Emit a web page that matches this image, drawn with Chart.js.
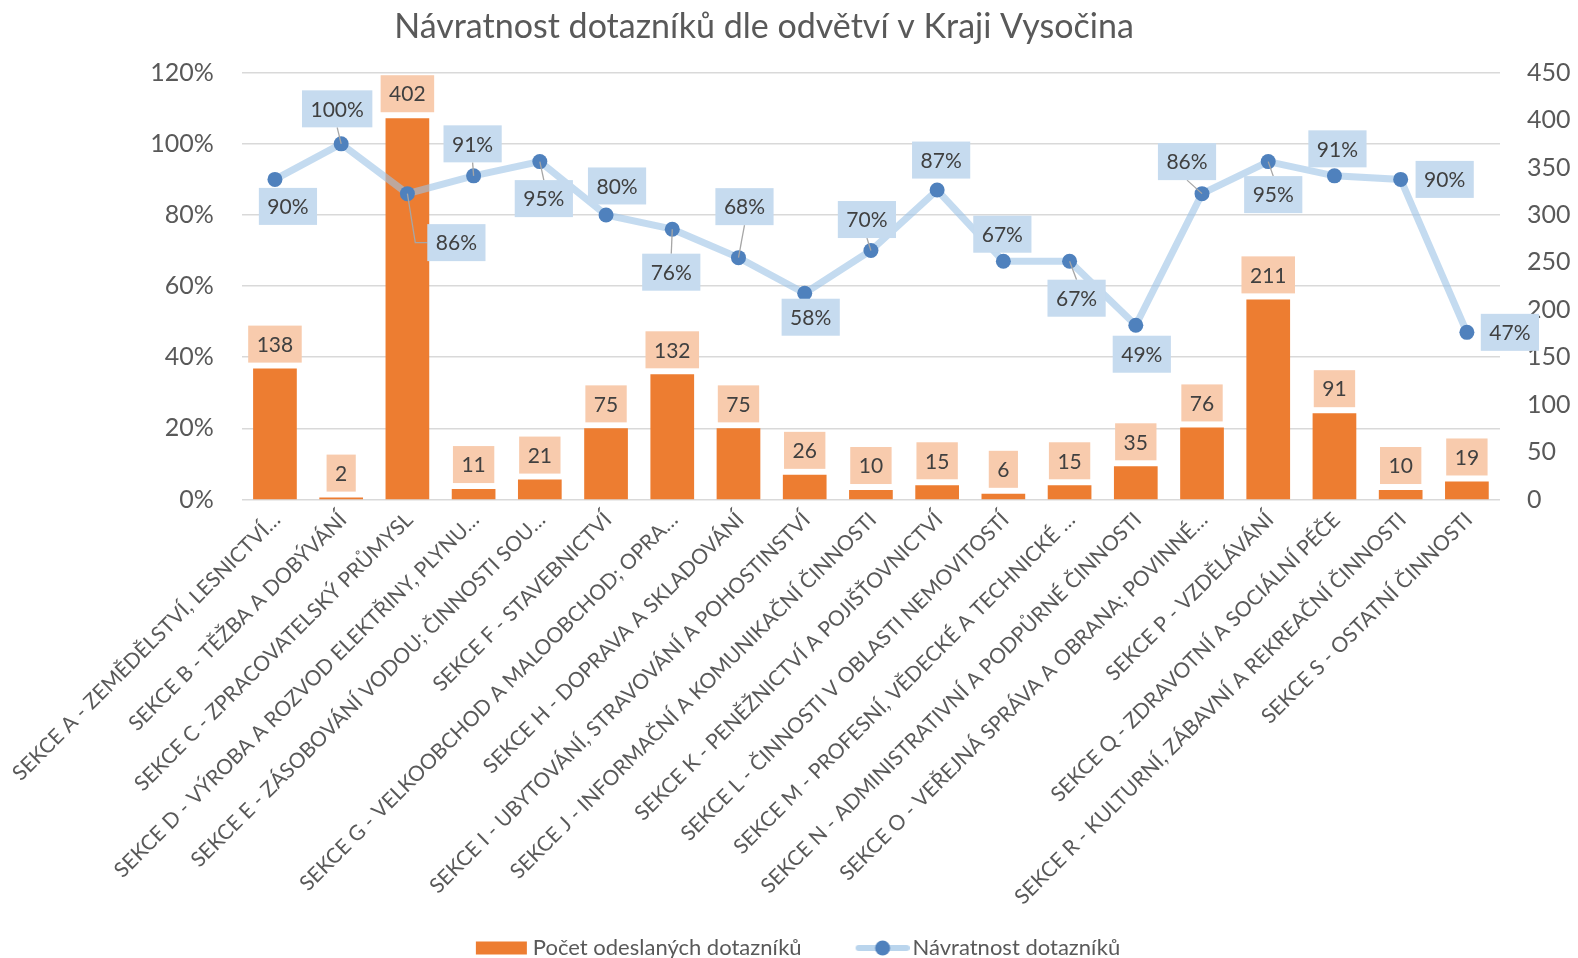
<!DOCTYPE html>
<html><head><meta charset="utf-8">
<script src="https://cdn.jsdelivr.net/npm/chart.js@4.4.1/dist/chart.umd.min.js"></script>
<style>html,body{margin:0;padding:0;background:#fff}canvas{display:block}</style>
</head><body>
<canvas id="c" width="1578" height="958"></canvas>
<script>
const categories = [
  "SEKCE A - ZEMĚDĚLSTVÍ, LESNICTVÍ…",
  "SEKCE B - TĚŽBA A DOBÝVÁNÍ",
  "SEKCE C - ZPRACOVATELSKÝ PRŮMYSL",
  "SEKCE D - VÝROBA A ROZVOD ELEKTŘINY, PLYNU…",
  "SEKCE E - ZÁSOBOVÁNÍ VODOU; ČINNOSTI SOU…",
  "SEKCE F - STAVEBNICTVÍ",
  "SEKCE G - VELKOOBCHOD A MALOOBCHOD; OPRA…",
  "SEKCE H - DOPRAVA A SKLADOVÁNÍ",
  "SEKCE I - UBYTOVÁNÍ, STRAVOVÁNÍ A POHOSTINSTVÍ",
  "SEKCE J - INFORMAČNÍ A KOMUNIKAČNÍ ČINNOSTI",
  "SEKCE K - PENĚŽNICTVÍ A POJIŠŤOVNICTVÍ",
  "SEKCE L - ČINNOSTI V OBLASTI NEMOVITOSTÍ",
  "SEKCE M - PROFESNÍ, VĚDECKÉ A TECHNICKÉ …",
  "SEKCE N - ADMINISTRATIVNÍ A PODPŮRNÉ ČINNOSTI",
  "SEKCE O - VEŘEJNÁ SPRÁVA A OBRANA; POVINNÉ…",
  "SEKCE P - VZDĚLÁVÁNÍ",
  "SEKCE Q - ZDRAVOTNÍ A SOCIÁLNÍ PÉČE",
  "SEKCE R - KULTURNÍ, ZÁBAVNÍ A REKREAČNÍ ČINNOSTI",
  "SEKCE S - OSTATNÍ ČINNOSTI"
];
const sentCounts = [138, 2, 402, 11, 21, 75, 132, 75, 26, 10, 15, 6, 15, 35, 76, 211, 91, 10, 19];
const returnRates = [90, 100, 86, 91, 95, 80, 76, 68, 58, 70, 87, 67, 67, 49, 86, 95, 91, 90, 47];
const leftTicks = [0, 20, 40, 60, 80, 100, 120];
const rightTicks = [0, 50, 100, 150, 200, 250, 300, 350, 400, 450];
const titleText = "Návratnost dotazníků dle odvětví v Kraji Vysočina";
const barLabel = "Počet odeslaných dotazníků";
const lineLabel = "Návratnost dotazníků";

const FONT = "Lato";
const TEXT = "#595959";

// label placement (pixel offsets of label centre from the point) - styling only
const lineLabelOffsets = [[13,27],[-4,-35],[49,49],[-1,-32],[4,37],[11,-29],[-1,43],[6,-51],[6,24],[-4,-31],[4,-30],[-1,-27],[7,37],[6,29],[-15,-32],[5,33],[3,-27],[44,0],[43,0]];
const lineLeaders = {1:'b',2:'l',3:'b',4:'t',6:'t',7:'b',9:'b',12:'t',14:'b',15:'t'};

function makeBarIcon(){
  const c = document.createElement('canvas'); c.width = 106; c.height = 16;
  const x = c.getContext('2d'); x.fillStyle = '#ed7d31'; x.fillRect(52, 1.5, 51, 13);
  return c;
}
function makeLineIcon(){
  const c = document.createElement('canvas'); c.width = 106; c.height = 18;
  const x = c.getContext('2d');
  x.strokeStyle = 'rgba(157,195,230,0.7)'; x.lineWidth = 6; x.lineCap = 'round';
  x.beginPath(); x.moveTo(55, 9); x.lineTo(103, 9); x.stroke();
  x.fillStyle = '#4f81bd'; x.beginPath(); x.arc(79, 9, 7.5, 0, Math.PI * 2); x.fill();
  return c;
}

const blockShift = {
  id: 'blockShift',
  afterLayout(chart) {
    const t = chart.titleBlock; if (t) { t.left = -50; }
    const l = chart.legend; if (l) { l.left -= 13; l.right -= 13; l.top += 8; l.bottom += 8; }
  }
};

const boxLabels = {
  id: 'boxLabels',
  afterDatasetsDraw(chart, args, opts) {
    const ctx = chart.ctx;
    ctx.save();
    ctx.font = opts.size + 'px ' + FONT;
    ctx.textAlign = 'center'; ctx.textBaseline = 'middle';
    const h = opts.boxH;
    const bars = chart.getDatasetMeta(1);
    bars.data.forEach((el, i) => {
      const t = String(chart.data.datasets[1].data[i]);
      const w = ctx.measureText(t).width + opts.padX * 2;
      const cx = el.x, cy = el.y - opts.barGap - h / 2;
      ctx.fillStyle = opts.barBg; ctx.fillRect(cx - w / 2, cy - h / 2, w, h);
      ctx.fillStyle = opts.color; ctx.fillText(t, cx, cy + 1);
    });
    const pts = chart.getDatasetMeta(0);
    pts.data.forEach((el, i) => {
      const t = chart.data.datasets[0].data[i] + '%';
      const w = ctx.measureText(t).width + opts.padX * 2;
      const [dx, dy] = opts.offsets[i];
      const cx = el.x + dx, cy = el.y + dy;
      const side = opts.leaders[i];
      if (side) {
        ctx.strokeStyle = '#a6a6a6'; ctx.lineWidth = 1.3;
        ctx.beginPath(); ctx.moveTo(el.x, el.y);
        if (side === 'b') ctx.lineTo(cx, cy + h / 2);
        else if (side === 't') ctx.lineTo(cx, cy - h / 2);
        else if (side === 'l') { ctx.lineTo(cx - w / 2 - 12, cy); ctx.lineTo(cx - w / 2, cy); }
        ctx.stroke();
      }
      ctx.fillStyle = opts.lineBg; ctx.fillRect(cx - w / 2, cy - h / 2, w, h);
      ctx.fillStyle = opts.color; ctx.fillText(t, cx, cy + 1);
    });
    ctx.restore();
  }
};

function build() {
  const barIcon = makeBarIcon(), lineIcon = makeLineIcon();
  new Chart(document.getElementById('c'), {
    type: 'bar',
    data: {
      labels: categories,
      datasets: [
        { type: 'line', label: lineLabel, data: returnRates, yAxisID: 'y', order: 0,
          borderColor: 'rgba(157,195,230,0.6)', borderWidth: 7, tension: 0,
          pointRadius: 7.5, pointHoverRadius: 7.5, pointBackgroundColor: '#4f81bd', pointBorderWidth: 0 },
        { type: 'bar', label: barLabel, data: sentCounts, yAxisID: 'y1', order: 1,
          backgroundColor: '#ed7d31', barPercentage: 0.66, categoryPercentage: 1 }
      ]
    },
    options: {
      responsive: false, animation: false, devicePixelRatio: 1,
      layout: { padding: { left: 0, right: 0, top: 0, bottom: -3 } },
      plugins: {
        title: { display: true, text: titleText, color: TEXT, font: { family: FONT, size: 34, weight: 'normal' }, padding: { top: 6.6, bottom: 25.3 } },
        legend: {
          position: 'bottom',
          labels: {
            usePointStyle: true, pointStyleWidth: 90, padding: 10, color: TEXT,
            font: { family: FONT, size: 22 },
            generateLabels: () => [
              { text: barLabel, pointStyle: barIcon, fontColor: TEXT, datasetIndex: 1, lineWidth: 0, strokeStyle: 'rgba(0,0,0,0)', fillStyle: '#ed7d31' },
              { text: lineLabel, pointStyle: lineIcon, fontColor: TEXT, datasetIndex: 0, lineWidth: 0, strokeStyle: 'rgba(0,0,0,0)', fillStyle: '#4f81bd' }
            ]
          }
        },
        tooltip: { enabled: false },
        boxLabels: { size: 21, padX: 8.5, boxH: 37, barGap: 6, color: '#404040', barBg: '#f8cbad', lineBg: '#c6dbef', offsets: lineLabelOffsets, leaders: lineLeaders }
      },
      scales: {
        x: {
          grid: { display: false, drawTicks: false }, border: { display: false },
          ticks: { autoSkip: false, minRotation: 45, maxRotation: 45, color: TEXT, font: { family: FONT, size: 21 }, padding: 8, labelOffset: 2 },
          afterFit(s) { s.height = 419.5; }
        },
        y: {
          position: 'left', min: 0, max: 120,
          afterBuildTicks(s) { s.ticks = leftTicks.map(v => ({ value: v })); },
          ticks: { callback: v => v + '%', color: TEXT, font: { family: FONT, size: 25 }, padding: 28 },
          grid: { color: '#d9d9d9', lineWidth: 1.5, drawTicks: false }, border: { display: false },
          afterFit(s) { s.width = 239; }
        },
        y1: {
          position: 'right', min: 0, max: 450,
          afterBuildTicks(s) { s.ticks = rightTicks.map(v => ({ value: v })); },
          ticks: { color: TEXT, font: { family: FONT, size: 25 }, padding: 27 },
          grid: { display: false, drawTicks: false }, border: { display: false },
          afterFit(s) { s.width = 78; }
        }
      }
    },
    plugins: [blockShift, boxLabels]
  });
}
Promise.all([document.fonts.load('20px Lato'), document.fonts.load('34px Lato')]).then(build, build);
</script>
</body></html>
